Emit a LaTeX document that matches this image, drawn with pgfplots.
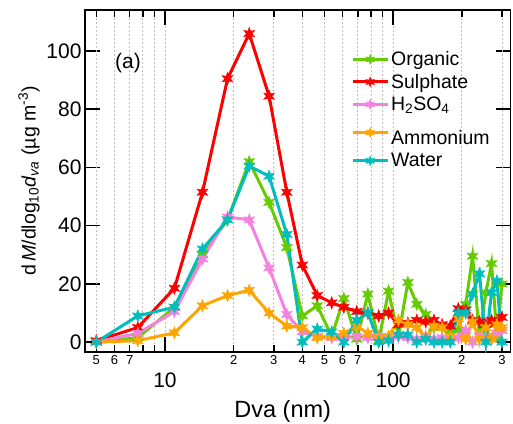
\documentclass[border=0pt]{standalone}
\usepackage{fontspec}
\setmainfont{Liberation Sans}
\usepackage{pgfplots}
\pgfplotsset{compat=1.18}
\definecolor{orgc}{RGB}{102,204,0}
\definecolor{sulc}{RGB}{255,0,0}
\definecolor{hc}{RGB}{245,130,225}
\definecolor{ammc}{RGB}{255,165,0}
\definecolor{watc}{RGB}{0,190,190}
\pgfdeclareplotmark{fstar}{%
  \pgfpathmoveto{\pgfpointpolar{90}{\pgfplotmarksize}}%
  \pgfpathlineto{\pgfpointpolar{120}{0.45\pgfplotmarksize}}%
  \pgfpathlineto{\pgfpointpolar{150}{\pgfplotmarksize}}%
  \pgfpathlineto{\pgfpointpolar{180}{0.45\pgfplotmarksize}}%
  \pgfpathlineto{\pgfpointpolar{210}{\pgfplotmarksize}}%
  \pgfpathlineto{\pgfpointpolar{240}{0.45\pgfplotmarksize}}%
  \pgfpathlineto{\pgfpointpolar{270}{\pgfplotmarksize}}%
  \pgfpathlineto{\pgfpointpolar{300}{0.45\pgfplotmarksize}}%
  \pgfpathlineto{\pgfpointpolar{330}{\pgfplotmarksize}}%
  \pgfpathlineto{\pgfpointpolar{0}{0.45\pgfplotmarksize}}%
  \pgfpathlineto{\pgfpointpolar{30}{\pgfplotmarksize}}%
  \pgfpathlineto{\pgfpointpolar{60}{0.45\pgfplotmarksize}}%
  \pgfpathclose
  \pgfusepathqfillstroke
}
\begin{document}
\begin{tikzpicture}
\begin{axis}[
  at={(0,0)}, anchor=south west,
  scale only axis, width=425.5pt, height=342pt,
  xmode=log, xmin=4.46, xmax=327,
  ymin=-3.4, ymax=114.1,
  axis line style={line width=1.8pt},
  every tick/.style={black, line width=1.6pt},
  tick align=inside,
  major tick length=15pt, minor tick length=7pt,
  xtick={10,100}, xticklabels={10,100},
  minor xtick={8,9,80,90},
  extra x ticks={5,6,7,20,30,40,50,60,70,200,300},
  extra x tick labels={5,6,7,2,3,4,5,6,7,2,3},
  extra x tick style={major tick length=7pt, grid=major,
     xticklabel style={font=\fontsize{13}{15}\selectfont, yshift=17pt}},
  xticklabel style={font=\fontsize{21}{24}\selectfont, yshift=-17pt},
  ytick={0,20,40,60,80,100},
  yticklabel style={font=\fontsize{21}{24}\selectfont},
  /pgf/number format/assume math mode=true,
  xmajorgrids, xminorgrids,
  grid style={gray!50, line width=0.8pt, dash pattern=on 2pt off 2pt},
  xlabel={Dva (nm)},
  xlabel style={font=\fontsize{23.5}{27}\selectfont, xshift=-15pt, yshift=-6pt},
  ylabel={d\,\textit{M}/dlog\textsubscript{10}\textit{d}\textsubscript{\textit{va}} (µg m\textsuperscript{-3})},
  ylabel style={font=\fontsize{19.5}{23}\selectfont},
  every axis plot/.append style={line width=3pt, mark=fstar, mark size=6.3pt},
  legend style={draw=none, fill=none, at={(0.625,0.885)}, anchor=north west,
     font=\fontsize{19.5}{22}\selectfont, row sep=3pt, inner sep=0pt,
     /tikz/every even column/.append style={column sep=0pt}},
  legend cell align=left,
  legend image code/.code={\draw[#1, mark repeat=2, mark phase=2, mark size=5pt] plot coordinates {(0pt,0pt) (17.5pt,0pt) (35pt,0pt)};},
]
\addplot[orgc, mark options={fill=orgc, line width=0.4pt}] coordinates {
(5.0,0) (7.6,1.5) (11.0,12) (14.6,30) (18.8,42) (23.4,62) (28.6,48) (34.2,32.5)
(40.0,9) (46.5,12.5) (53.8,2) (60.8,15) (69.3,1) (77.5,16.5) (86.5,0.5) (95.5,17.5)
(105.5,2) (116,20.5) (127,13) (139,9.5) (151,5) (164,5) (178,4) (193,4)
(208,13) (223,29.5) (239,2) (255,17) (270,27) (285,2) (300,20)};
\addlegendentry{Organic}
\addplot[sulc, mark options={fill=sulc, line width=0.4pt}] coordinates {
(5.0,0.5) (7.6,5) (11.0,18.5) (14.6,51.5) (18.8,90.5) (23.4,106) (28.6,84.5) (34.2,51.5)
(40.0,26.5) (46.5,16) (53.8,13.5) (60.8,12) (69.3,10.5) (77.5,10) (86.5,9) (95.5,10)
(105.5,6) (116,6.5) (127,7.5) (139,7) (151,7.5) (164,6) (178,5.5) (193,11.5)
(208,11) (223,7.5) (239,7) (255,6) (270,7.5) (285,6.5) (300,8.5)};
\addlegendentry{Sulphate}
\addplot[hc, mark options={fill=hc, line width=0.4pt}] coordinates {
(5.0,0) (7.6,3) (11.0,10.5) (14.6,28.5) (18.8,43) (23.4,42) (28.6,25.5) (34.2,9.5)
(40.0,3.5) (46.5,2) (53.8,1.5) (60.8,1.5) (69.3,2) (77.5,1.5) (86.5,2) (95.5,1)
(105.5,2) (116,1.5) (127,1) (139,2) (151,1) (164,1.5) (178,1) (193,1.5)
(208,4) (223,0) (239,2) (255,1) (270,1) (285,3) (300,4)};
\addlegendentry{H\textsubscript{2}SO\textsubscript{4}}
\addplot[ammc, mark options={fill=ammc, line width=0.4pt}] coordinates {
(5.0,0) (7.6,0.5) (11.0,3.2) (14.6,12.5) (18.8,16) (23.4,17.8) (28.6,10) (34.2,5.5)
(40.0,5) (46.5,1.5) (53.8,2) (60.8,3) (69.3,5.5) (77.5,3) (86.5,1.5) (95.5,2)
(105.5,7.5) (116,6) (127,5) (139,1.5) (151,5.5) (164,5) (178,2) (193,8)
(208,1) (223,7) (239,1) (255,5) (270,1) (285,6) (300,5)};
\addlegendentry{\rule{0pt}{26pt}Ammonium}
\addplot[watc, mark options={fill=watc, line width=0.4pt}] coordinates {
(5.0,0) (7.6,9) (11.0,12) (14.6,32) (18.8,42) (23.4,60.5) (28.6,57) (34.2,37)
(40.0,0) (46.5,4.5) (53.8,3.5) (60.8,0) (69.3,7.5) (77.5,10) (86.5,0) (95.5,0.5)
(105.5,2.5) (116,2.5) (127,0) (139,1) (151,0) (164,0) (178,0) (193,10)
(208,10) (223,16.5) (239,23.5) (255,0) (270,17) (285,21) (300,0)};
\addlegendentry{Water}
\node[font=\fontsize{21}{24}\selectfont] at (rel axis cs:0.101,0.846) {(a)};
\end{axis}
\pgfresetboundingbox
\path (-85pt,-71pt) rectangle (428pt,352pt);
\end{tikzpicture}
\end{document}
